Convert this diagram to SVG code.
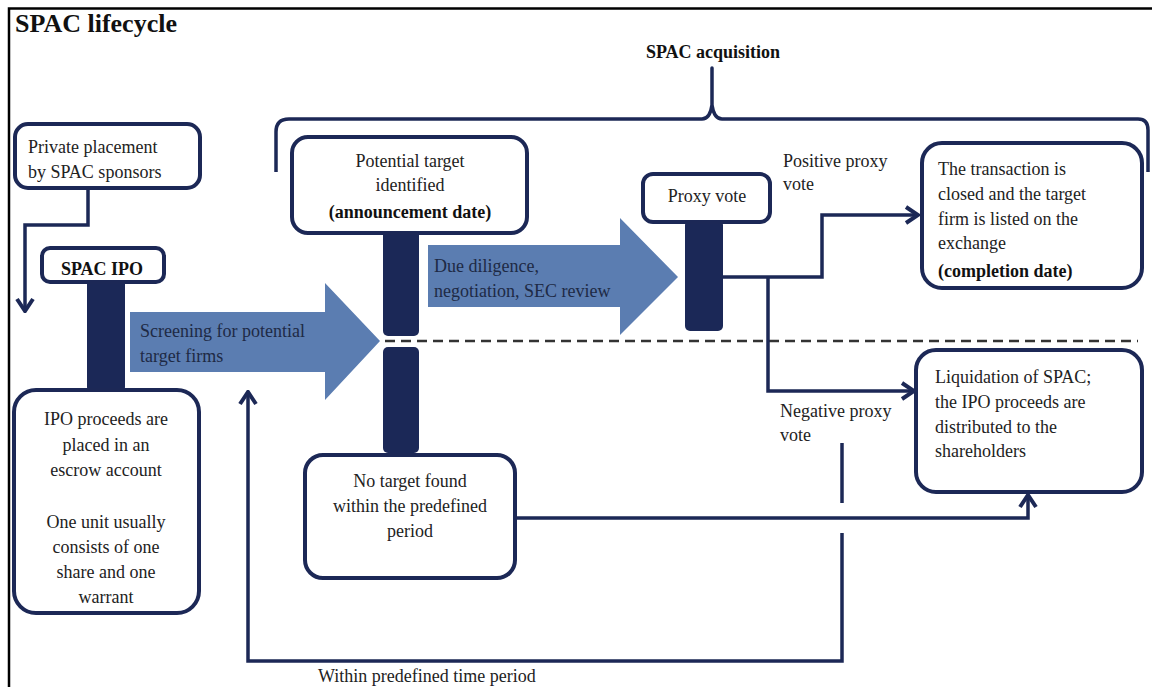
<svg xmlns="http://www.w3.org/2000/svg" width="1152" height="687" viewBox="0 0 1152 687">
<defs>
<style>
.box{fill:#fff;stroke:#1c2856;stroke-width:4}
.bar{fill:#1b2857}
.big{fill:#5b7db1}
.ln{fill:none;stroke:#1c2856;stroke-width:3.5}
.t,.tb,.ta,.title{font-family:'Liberation Serif','Times New Roman',serif;font-size:18px;fill:#222}
.tb{font-weight:bold;fill:#111}
.ta{fill:#1e2a45}
.title{font-size:26px;font-weight:bold;fill:#111}
.c{text-anchor:middle}
</style>
<marker id="ah" viewBox="0 0 16 20" refX="14" refY="10" markerWidth="16" markerHeight="20" markerUnits="userSpaceOnUse" orient="auto">
<path d="M2,2 L14,10 L2,18" fill="none" stroke="#1c2856" stroke-width="4" stroke-linejoin="miter"/>
</marker>
</defs>
<rect width="1152" height="687" fill="#fff"/>
<path d="M9,687 V8.5 H1152" fill="none" stroke="#000" stroke-width="2.5"/>
<text class="title" x="15" y="32">SPAC lifecycle</text>
<g id="bracket">
<path d="M276,172 V132 Q276,119 289,119 H702 Q710,119 712,105 V68 V105 Q714,119 722,119 H1138 Q1148,119 1148,130 V172" fill="none" stroke="#1c2856" stroke-width="3.5" stroke-linejoin="round"/>
<text x="713" y="58" class="tb c">SPAC acquisition</text>
</g>
<g id="bars">
<rect class="bar" x="87" y="280" width="38" height="110" rx="3"/>
<rect class="bar" x="383" y="230" width="36" height="106" rx="5"/>
<rect class="bar" x="383" y="347" width="36" height="106" rx="5"/>
<rect class="bar" x="685" y="220" width="38" height="111" rx="5"/>
</g>
<g id="arrow-screening">
<path class="big" d="M130,312 H325 V283 L380,341 L325,400 V372 H130 Z"/>
<text class="ta" x="140" y="337">Screening for potential</text>
<text class="ta" x="140" y="362">target firms</text>
</g>
<g id="arrow-due">
<path class="big" d="M428,245 H620 V218 L678,277 L620,335 V307 H428 Z"/>
<text class="ta" x="434" y="272">Due diligence,</text>
<text class="ta" x="434" y="297">negotiation, SEC review</text>
</g>
<g id="connectors">
<path d="M385,341 H1138" fill="none" stroke="#333" stroke-width="2.5" stroke-dasharray="10 6"/>
<path class="ln" d="M88,188 V225 H25 V311" marker-end="url(#ah)"/>
<path class="ln" d="M723,277 H822 V215 H918" marker-end="url(#ah)"/>
<path class="ln" d="M768,277 V391 H914" marker-end="url(#ah)"/>
<path class="ln" d="M515,518 H1028 V495" marker-end="url(#ah)"/>
<path class="ln" d="M842,443 V503"/>
<path class="ln" d="M842,533 V661 H248 V392" marker-end="url(#ah)"/>
</g>
<g id="private">
<rect class="box" x="15" y="124" width="185" height="64" rx="13"/>
<text class="t" x="28" y="153">Private placement</text>
<text class="t" x="28" y="178">by  SPAC sponsors</text>
</g>
<g id="spacipo">
<rect class="box" x="42" y="248" width="122" height="34" rx="8"/>
<text class="tb c" x="102" y="275">SPAC IPO</text>
</g>
<g id="proceeds">
<rect class="box" x="14" y="390" width="185" height="223" rx="22"/>
<text class="t c" x="106" y="425">IPO proceeds are</text>
<text class="t c" x="106" y="451">placed in  an</text>
<text class="t c" x="106" y="476">escrow account</text>
<text class="t c" x="106" y="528">One unit usually</text>
<text class="t c" x="106" y="553">consists of one</text>
<text class="t c" x="106" y="578">share and one</text>
<text class="t c" x="106" y="603">warrant</text>
</g>
<g id="potential">
<rect class="box" x="292" y="137" width="235" height="96" rx="16"/>
<text class="t c" x="410" y="167">Potential target</text>
<text class="t c" x="410" y="191">identified</text>
<text class="tb c" x="410" y="218">(announcement date)</text>
</g>
<g id="notarget">
<rect class="box" x="305" y="455" width="210" height="123" rx="18"/>
<text class="t c" x="410" y="487">No target found</text>
<text class="t c" x="410" y="512">within  the predefined</text>
<text class="t c" x="410" y="537">period</text>
</g>
<g id="proxy">
<rect class="box" x="643" y="174" width="127" height="48" rx="10"/>
<text class="t c" x="707" y="202">Proxy vote</text>
</g>
<g id="completion">
<rect class="box" x="922" y="143" width="220" height="145" rx="20"/>
<text class="t" x="938" y="175">The transaction is</text>
<text class="t" x="938" y="200">closed and the target</text>
<text class="t" x="938" y="225">firm is listed on the</text>
<text class="t" x="938" y="249">exchange</text>
<text class="tb" x="938" y="277">(completion date)</text>
</g>
<g id="liquidation">
<rect class="box" x="916" y="350" width="226" height="142" rx="20"/>
<text class="t" x="935" y="383">Liquidation  of SPAC;</text>
<text class="t" x="935" y="408">the IPO proceeds are</text>
<text class="t" x="935" y="433">distributed to the</text>
<text class="t" x="935" y="457">shareholders</text>
</g>
<g id="labels">
<text class="t" x="783" y="167">Positive proxy</text>
<text class="t" x="783" y="190">vote</text>
<text class="t" x="780" y="417">Negative  proxy</text>
<text class="t" x="780" y="441">vote</text>
<text class="t" x="318" y="682">Within predefined time period</text>
</g>
</svg>
